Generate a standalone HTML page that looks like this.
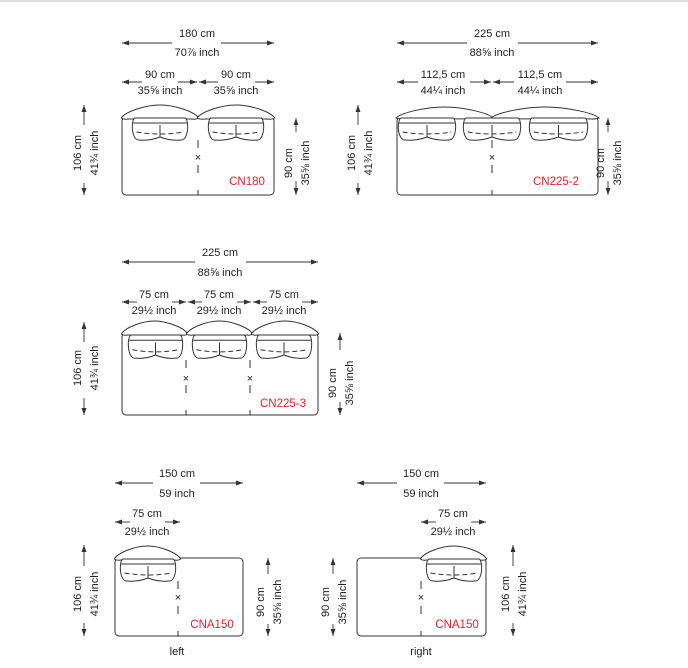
<!DOCTYPE html>
<html><head><meta charset="utf-8"><style>
html,body{margin:0;padding:0;background:#fff;}
svg{display:block;}
text{font-family:"Liberation Sans",Arial,sans-serif;font-size:11px;fill:#222;}
.r{fill:#e8202a;font-size:11.5px;}
.l{stroke:#333;stroke-width:0.9;fill:none;}
.b{stroke:#333;stroke-width:1;fill:#fff;}
.d{stroke:#333;stroke-width:1;stroke-dasharray:8 17;fill:none;}
</style></head><body>
<svg width="688" height="668" viewBox="0 0 688 668" xmlns="http://www.w3.org/2000/svg">
<defs>
<marker id="a" viewBox="0 0 10 10" refX="10" refY="5" markerWidth="7" markerHeight="7" orient="auto-start-reverse" markerUnits="userSpaceOnUse"><path d="M0,1.5 L10,5 L0,8.5 Z" fill="#333"/></marker>
<g id="br"><path d="M-1,0 C4,-6 30,-13 50,-13 C70,-13 96,-6 101,0 C97,2 94,1 90,1 L10,1 C6,1 3,2 -1,0 Z" fill="#fff" stroke="#333" stroke-width="1" vector-effect="non-scaling-stroke"/></g>
<g id="cu" fill="#fff" stroke="#333" stroke-width="1">
<path d="M6,1 H94 C102,1 102,23 88,23 Q68,24 50,20 Q32,24 12,23 C-2,23 -2,1 6,1 Z" vector-effect="non-scaling-stroke"/>
<path d="M1,6 H99" vector-effect="non-scaling-stroke" fill="none"/>
<path d="M8,15 Q50,19 92,15" vector-effect="non-scaling-stroke" fill="none" stroke-dasharray="5 3"/>
<path d="M50,8 V20" vector-effect="non-scaling-stroke" fill="none"/>
</g>
</defs>
<rect x="0" y="0" width="688" height="2" fill="#ddd"/>

<!-- CN180 -->
<text x="197" y="37" text-anchor="middle">180 cm</text>
<text x="197" y="56" text-anchor="middle">70⅞ inch</text>
<path class="l" d="M172,43 H122" marker-end="url(#a)"/><path class="l" d="M221,43 H274" marker-end="url(#a)"/>
<text x="160" y="78" text-anchor="middle">90 cm</text><text x="160" y="94" text-anchor="middle">35⅝ inch</text>
<text x="236" y="78" text-anchor="middle">90 cm</text><text x="236" y="94" text-anchor="middle">35⅝ inch</text>
<path class="l" d="M142,82 H122" marker-end="url(#a)"/><path class="l" d="M178,82 H197" marker-end="url(#a)"/>
<path class="l" d="M218,82 H199" marker-end="url(#a)"/><path class="l" d="M255,82 H274" marker-end="url(#a)"/>
<rect class="b" x="122" y="117" width="152" height="78" rx="4"/>
<use href="#br" transform="translate(122,118) scale(0.76,1)"/>
<use href="#br" transform="translate(198,118) scale(0.76,1)"/>
<use href="#cu" transform="translate(132,117) scale(0.56,1)"/>
<use href="#cu" transform="translate(208,117) scale(0.56,1)"/>
<path class="d" d="M198,140 V195"/><text x="198" y="161" text-anchor="middle">×</text>
<path class="l" d="M84,125 V105" marker-end="url(#a)"/><path class="l" d="M84,183 V195" marker-end="url(#a)"/>
<text transform="translate(81,153) rotate(-90)" text-anchor="middle">106 cm</text>
<text transform="translate(98,153) rotate(-90)" text-anchor="middle">41¾ inch</text>
<path class="l" d="M296,132 V118" marker-end="url(#a)"/><path class="l" d="M296,181 V195" marker-end="url(#a)"/>
<text transform="translate(292,163) rotate(-90)" text-anchor="middle">90 cm</text>
<text transform="translate(309,163) rotate(-90)" text-anchor="middle">35⅝ inch</text>
<text class="r" x="247" y="185" text-anchor="middle">CN180</text>

<!-- CN225-2 -->
<text x="492" y="37" text-anchor="middle">225 cm</text>
<text x="492" y="56" text-anchor="middle">88⅝ inch</text>
<path class="l" d="M467,43 H397" marker-end="url(#a)"/><path class="l" d="M518,43 H598" marker-end="url(#a)"/>
<text x="443" y="78" text-anchor="middle">112,5 cm</text><text x="443" y="94" text-anchor="middle">44¼ inch</text>
<text x="540" y="78" text-anchor="middle">112,5 cm</text><text x="540" y="94" text-anchor="middle">44¼ inch</text>
<path class="l" d="M418,82 H397" marker-end="url(#a)"/><path class="l" d="M470,82 H491" marker-end="url(#a)"/>
<path class="l" d="M514,82 H493" marker-end="url(#a)"/><path class="l" d="M566,82 H598" marker-end="url(#a)"/>
<rect class="b" x="397" y="117" width="201" height="78" rx="4"/>
<use href="#br" transform="translate(397,118) scale(0.95,0.85)"/>
<use href="#br" transform="translate(492,118) scale(1.06,0.85)"/>
<use href="#cu" transform="translate(398,117) scale(0.58,1)"/>
<use href="#cu" transform="translate(463,117) scale(0.58,1)"/>
<use href="#cu" transform="translate(529,117) scale(0.59,1)"/>
<path class="d" d="M492,140 V195"/><text x="492" y="161" text-anchor="middle">×</text>
<path class="l" d="M358,125 V105" marker-end="url(#a)"/><path class="l" d="M358,183 V195" marker-end="url(#a)"/>
<text transform="translate(355,153) rotate(-90)" text-anchor="middle">106 cm</text>
<text transform="translate(372,153) rotate(-90)" text-anchor="middle">41¾ inch</text>
<path class="l" d="M608,132 V118" marker-end="url(#a)"/><path class="l" d="M608,181 V195" marker-end="url(#a)"/>
<text transform="translate(604,163) rotate(-90)" text-anchor="middle">90 cm</text>
<text transform="translate(621,163) rotate(-90)" text-anchor="middle">35⅝ inch</text>
<text class="r" x="556" y="185" text-anchor="middle">CN225-2</text>

<!-- CN225-3 -->
<text x="220" y="256" text-anchor="middle">225 cm</text>
<text x="220" y="276" text-anchor="middle">88⅝ inch</text>
<path class="l" d="M195,262 H122" marker-end="url(#a)"/><path class="l" d="M246,262 H318" marker-end="url(#a)"/>
<text x="154" y="298" text-anchor="middle">75 cm</text><text x="154" y="314" text-anchor="middle">29½ inch</text>
<text x="219" y="298" text-anchor="middle">75 cm</text><text x="219" y="314" text-anchor="middle">29½ inch</text>
<text x="284" y="298" text-anchor="middle">75 cm</text><text x="284" y="314" text-anchor="middle">29½ inch</text>
<path class="l" d="M137,302 H122" marker-end="url(#a)"/><path class="l" d="M172,302 H186" marker-end="url(#a)"/>
<path class="l" d="M202,302 H188" marker-end="url(#a)"/><path class="l" d="M237,302 H251" marker-end="url(#a)"/>
<path class="l" d="M267,302 H253" marker-end="url(#a)"/><path class="l" d="M302,302 H318" marker-end="url(#a)"/>
<rect class="b" x="122" y="333" width="196" height="82" rx="4"/>
<use href="#br" transform="translate(122,334) scale(0.65,1)"/>
<use href="#br" transform="translate(187,334) scale(0.65,1)"/>
<use href="#br" transform="translate(252,334) scale(0.66,1)"/>
<use href="#cu" transform="translate(128,334) scale(0.55,1.05)"/>
<use href="#cu" transform="translate(192,334) scale(0.55,1.05)"/>
<use href="#cu" transform="translate(256,334) scale(0.56,1.05)"/>
<path class="d" d="M186,360 V415"/><text x="186" y="382" text-anchor="middle">×</text>
<path class="d" d="M250,360 V415"/><text x="250" y="382" text-anchor="middle">×</text>
<path class="l" d="M84,342 V322" marker-end="url(#a)"/><path class="l" d="M84,398 V415" marker-end="url(#a)"/>
<text transform="translate(81,368) rotate(-90)" text-anchor="middle">106 cm</text>
<text transform="translate(98,368) rotate(-90)" text-anchor="middle">41¾ inch</text>
<path class="l" d="M340,350 V333" marker-end="url(#a)"/><path class="l" d="M340,402 V415" marker-end="url(#a)"/>
<text transform="translate(336,383) rotate(-90)" text-anchor="middle">90 cm</text>
<text transform="translate(353,383) rotate(-90)" text-anchor="middle">35⅝ inch</text>
<text class="r" x="283" y="407" text-anchor="middle">CN225-3</text>

<!-- CNA150 left -->
<text x="177" y="477" text-anchor="middle">150 cm</text>
<text x="177" y="497" text-anchor="middle">59 inch</text>
<path class="l" d="M153,483 H115" marker-end="url(#a)"/><path class="l" d="M200,483 H243" marker-end="url(#a)"/>
<text x="147" y="517" text-anchor="middle">75 cm</text><text x="147" y="535" text-anchor="middle">29½ inch</text>
<path class="l" d="M130,522 H115" marker-end="url(#a)"/><path class="l" d="M165,522 H180" marker-end="url(#a)"/>
<rect class="b" x="115" y="558" width="128" height="78" rx="4"/>
<use href="#br" transform="translate(115,559) scale(0.65,1)"/>
<use href="#cu" transform="translate(120,558) scale(0.56,1)"/>
<path class="d" d="M178,581 V636"/><text x="178" y="601" text-anchor="middle">×</text>
<path class="l" d="M84,566 V545" marker-end="url(#a)"/><path class="l" d="M84,623 V636" marker-end="url(#a)"/>
<text transform="translate(81,594) rotate(-90)" text-anchor="middle">106 cm</text>
<text transform="translate(98,594) rotate(-90)" text-anchor="middle">41¾ inch</text>
<path class="l" d="M268,574 V558" marker-end="url(#a)"/><path class="l" d="M268,624 V636" marker-end="url(#a)"/>
<text transform="translate(264,602) rotate(-90)" text-anchor="middle">90 cm</text>
<text transform="translate(281,602) rotate(-90)" text-anchor="middle">35⅝ inch</text>
<text class="r" x="212" y="628" text-anchor="middle">CNA150</text>
<text x="177" y="655" text-anchor="middle">left</text>

<!-- CNA150 right -->
<text x="421" y="477" text-anchor="middle">150 cm</text>
<text x="421" y="497" text-anchor="middle">59 inch</text>
<path class="l" d="M397,483 H357" marker-end="url(#a)"/><path class="l" d="M444,483 H486" marker-end="url(#a)"/>
<text x="453" y="517" text-anchor="middle">75 cm</text><text x="453" y="535" text-anchor="middle">29½ inch</text>
<path class="l" d="M436,522 H421" marker-end="url(#a)"/><path class="l" d="M471,522 H486" marker-end="url(#a)"/>
<rect class="b" x="357" y="558" width="129" height="78" rx="4"/>
<use href="#br" transform="translate(421,559) scale(0.65,1)"/>
<use href="#cu" transform="translate(426,558) scale(0.56,1)"/>
<path class="d" d="M421,581 V636"/><text x="421" y="601" text-anchor="middle">×</text>
<path class="l" d="M333,574 V558" marker-end="url(#a)"/><path class="l" d="M333,624 V636" marker-end="url(#a)"/>
<text transform="translate(329,602) rotate(-90)" text-anchor="middle">90 cm</text>
<text transform="translate(346,602) rotate(-90)" text-anchor="middle">35⅝ inch</text>
<path class="l" d="M513,566 V545" marker-end="url(#a)"/><path class="l" d="M513,623 V636" marker-end="url(#a)"/>
<text transform="translate(509,594) rotate(-90)" text-anchor="middle">106 cm</text>
<text transform="translate(526,594) rotate(-90)" text-anchor="middle">41¾ inch</text>
<text class="r" x="457" y="628" text-anchor="middle">CNA150</text>
<text x="421" y="655" text-anchor="middle">right</text>
</svg>
</body></html>
